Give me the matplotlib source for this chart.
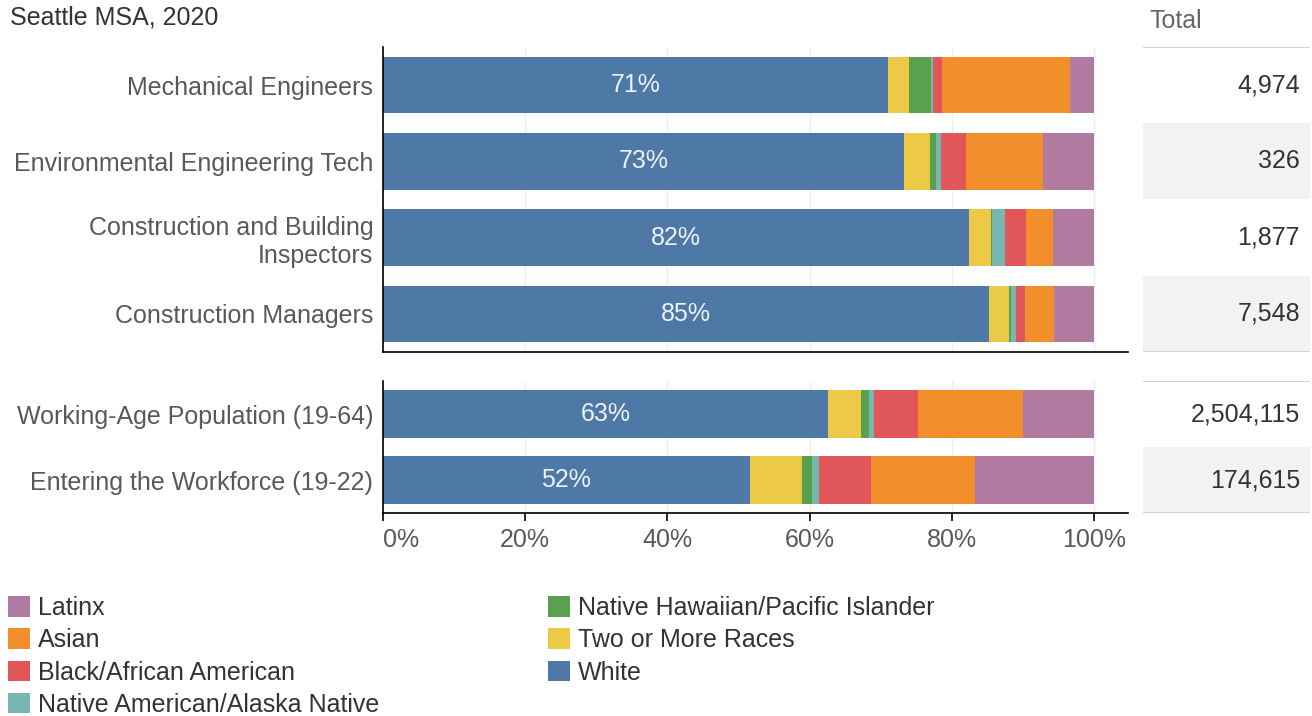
import matplotlib.pyplot as plt
from matplotlib.patches import Patch
import numpy as np

plt.rcParams['font.family'] = ['Liberation Sans', 'DejaVu Sans']

# occupations (top panel) and reference populations (bottom panel)
ocupaciones = ['Mechanical Engineers', 'Environmental Engineering Tech',
               'Construction and Building\nInspectors', 'Construction Managers']
poblaciones = ['Working-Age Population (19-64)', 'Entering the Workforce (19-22)']

# shares in % for each group, left to right
grupos = ['White', 'Two or More Races', 'Native Hawaiian/Pacific Islander',
          'Native American/Alaska Native', 'Black/African American', 'Asian', 'Latinx']
colores = ['#4e79a7', '#edc948', '#59a14f', '#76b7b2', '#e15759', '#f28e2b', '#b07aa1']

white = [71.0, 73.3, 82.4, 85.3, 62.6, 51.6]
two_more = [3.0, 3.6, 3.1, 2.7, 4.7, 7.3]
nhpi = [3.1, 0.9, 0.2, 0.4, 1.1, 1.4]
native_am = [0.3, 0.7, 1.8, 0.6, 0.7, 1.1]
black = [1.3, 3.5, 2.9, 1.3, 6.2, 7.3]
asian = [17.9, 10.9, 3.8, 4.1, 14.7, 14.6]
latinx = [3.4, 7.1, 5.8, 5.6, 10.0, 16.7]

totales = ['4,974', '326', '1,877', '7,548', '2,504,115', '174,615']

series = np.array([white, two_more, nhpi, native_am, black, asian, latinx])

W, H = 1312, 716
fs = 18
fig = plt.figure(figsize=(W / 100, H / 100), dpi=100)


def caja(x0, y0, x1, y1):
    return [x0 / W, 1 - y1 / H, (x1 - x0) / W, (y1 - y0) / H]


gris = '#595959'
ax_top = fig.add_axes(caja(383, 47, 1128, 352))
ax_bot = fig.add_axes(caja(383, 381, 1128, 513))

paneles = [(ax_top, ocupaciones, slice(0, 4)), (ax_bot, poblaciones, slice(4, 6))]
for ax, etiquetas, sl in paneles:
    datos = series[:, sl]
    n = len(etiquetas)
    y = np.arange(n)
    izq = np.zeros(n)
    for valores, color in zip(datos, colores):
        ax.barh(y, valores, left=izq, height=0.74, color=color, zorder=2)
        izq += valores
    for yi, v in zip(y, datos[0]):
        ax.text(v / 2, yi, f'{v:.0f}%', ha='center', va='center',
                color='#eef2f7', fontsize=fs, zorder=3)
    ax.set_xlim(0, 104.8)
    ax.set_ylim(n - 0.5, -0.5)
    ax.set_yticks(y)
    ax.set_yticklabels(etiquetas, fontsize=fs, color=gris, linespacing=1.2)
    ax.tick_params(axis='y', length=0, pad=7)
    for x in range(0, 101, 20):
        ax.axvline(x, color='#efefef', lw=1, zorder=1)
    for s in ['top', 'right']:
        ax.spines[s].set_visible(False)
    for s in ['left', 'bottom']:
        ax.spines[s].set_color('black')
        ax.spines[s].set_linewidth(1.2)

ax_top.set_xticks([])
ax_bot.set_xticks(range(0, 101, 20))
ax_bot.set_xticklabels([f'{x}%' for x in range(0, 101, 20)], fontsize=fs, color=gris)
ax_bot.get_xticklabels()[0].set_horizontalalignment('left')
ax_bot.tick_params(axis='x', length=6, width=1.2, color='black', pad=5)

# totals column
tab_top = fig.add_axes(caja(1143, 47, 1310, 352))
tab_bot = fig.add_axes(caja(1143, 381, 1310, 513))
for ax, vals, n in [(tab_top, totales[:4], 4), (tab_bot, totales[4:], 2)]:
    ax.set_xlim(0, 1)
    ax.set_ylim(n - 0.5, -0.5)
    ax.axis('off')
    for i, t in enumerate(vals):
        if i % 2 == 1:
            ax.axhspan(i - 0.5, i + 0.5, color='#f2f2f2', lw=0)
        ax.text(0.94, i, t, ha='right', va='center', fontsize=fs, color='#333333')
    ax.axhline(-0.5, color='#d4d4d4', lw=1.5)
    ax.axhline(n - 0.5, color='#d4d4d4', lw=1.5)

fig.text(1150 / W, 1 - 21 / H, 'Total', ha='left', va='center', fontsize=fs, color='#666666')
fig.text(10 / W, 1 - 17 / H, 'Seattle MSA, 2020', ha='left', va='center', fontsize=fs, color='#333333')

# legend, column-major like the source
orden = ['Latinx', 'Asian', 'Black/African American', 'Native American/Alaska Native',
         'Native Hawaiian/Pacific Islander', 'Two or More Races', 'White']
mapa = dict(zip(grupos, colores))
handles = [Patch(facecolor=mapa[g], label=g) for g in orden]
fig.legend(handles=handles, ncol=2, loc='upper left', bbox_to_anchor=(8 / W, 1 - 596 / H),
           frameon=False, fontsize=fs, borderpad=0, borderaxespad=0,
           handlelength=0.88, handleheight=0.88, handletextpad=0.32,
           labelspacing=0.33, columnspacing=6.75, labelcolor='#333333')

fig.savefig('out.png', dpi=100)
